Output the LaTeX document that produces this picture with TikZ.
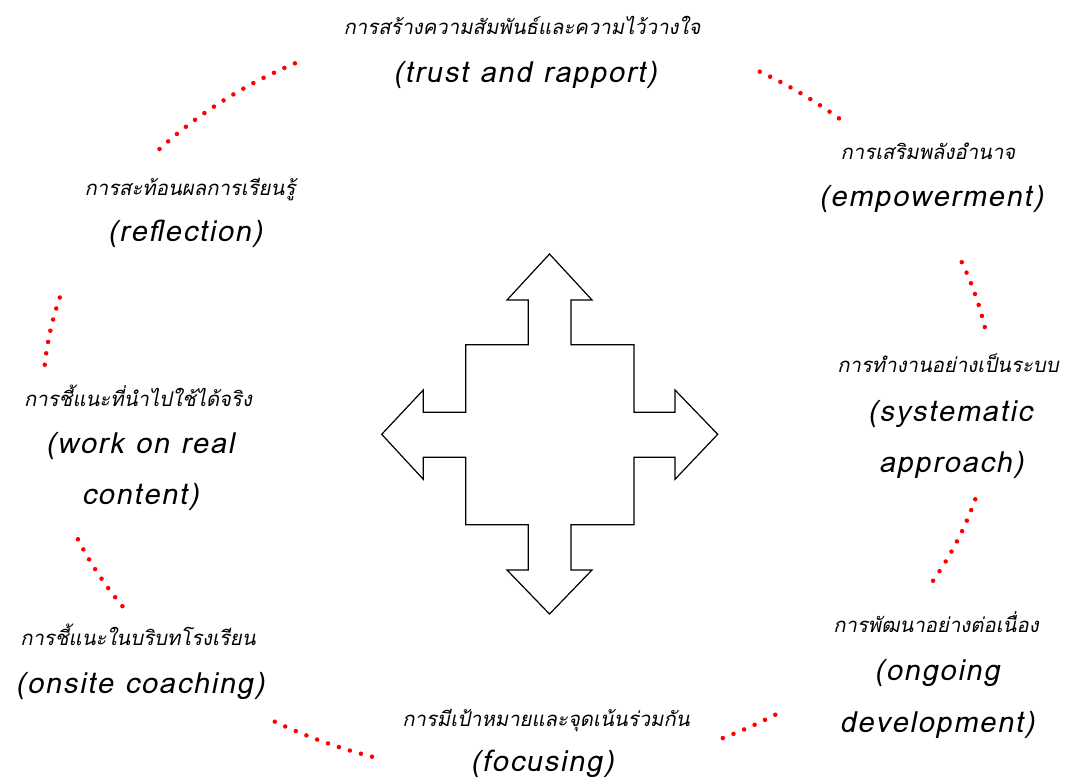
\documentclass[tikz,border=0pt]{standalone}
\usepackage{fontspec}
\newfontfamily\thaifont[Script=Thai,FakeSlant=0.2]{Loma}
\newfontfamily\engfont[FakeSlant=0.2,LetterSpace=6]{Loma}
\begin{document}
\begin{tikzpicture}[x=1pt,y=-1pt,
  thai/.style={anchor=base,inner sep=0pt,font=\thaifont\fontsize{20.3}{24}\selectfont},
  eng/.style={anchor=base,inner sep=0pt,font=\engfont\fontsize{29}{32}\selectfont},
  dotarc/.style={draw=red,line width=4.5pt,line cap=round,dash pattern=on 0pt off 11.5pt},
  bigarrow/.style={draw=black,line width=1.2pt,fill=white,line join=miter}]
\useasboundingbox (0,0) rectangle (1067,779);
% dotted arcs
\foreach \a/\b in {221/242, 300.6/313.2, 339.1/350.1, 15.7/30.3, 57.2/65.4, 107.9/122.2, 146.4/158.6, 184.9/196.6}{
  \draw[dotarc] plot[domain=\a:\b,samples=40,smooth] ({518+475*cos(\x)},{397+378*sin(\x)});
}
% central four-way arrow
\draw[bigarrow] (549.5,254) -- (592,300) -- (571,300) -- (571,344.7) -- (634,344.7) -- (634,412.3) -- (675,412.3) -- (675,390) -- (717.7,434.3) -- (675,479.3) -- (675,457.3) -- (634,457.3) -- (634,524.7) -- (571,524.7) -- (571,570) -- (592,570) -- (549.5,614) -- (507,570) -- (528.3,570) -- (528.3,524.7) -- (465.7,524.7) -- (465.7,457.3) -- (423.3,457.3) -- (423.3,479.3) -- (381.7,434.3) -- (423.3,390) -- (423.3,412.3) -- (465.7,412.3) -- (465.7,344.7) -- (528.3,344.7) -- (528.3,300) -- (507,300) -- cycle;
% labels
\node[thai] (t1) at (522,34) {การสร้างความสัมพันธ์และความไว้วางใจ};
\node[eng] (e1) at (525,82) {(trust and rapport)};
\node[thai] (t2) at (928,159) {การเสริมพลังอำนาจ};
\node[eng] (e2) at (931,206) {(empowerment)};
\node[thai] (t3) at (948,372) {การทำงานอย่างเป็นระบบ};
\node[eng] (e3a) at (950,421) {(systematic};
\node[eng] (e3b) at (951,472) {approach)};
\node[thai] (t4) at (936,632) {การพัฒนาอย่างต่อเนื่อง};
\node[eng] (e4a) at (937,680) {(ongoing};
\node[eng] (e4b) at (937,732) {development)};
\node[thai] (t5) at (546,726) {การมีเป้าหมายและจุดเน้นร่วมกัน};
\node[eng] (e5) at (542,771) {(focusing)};
\node[thai] (t6) at (138,645) {การชี้แนะในบริบทโรงเรียน};
\node[eng] (e6) at (140,693) {(onsite coaching)};
\node[thai] (t7) at (138,406) {การชี้แนะที่นำไปใช้ได้จริง};
\node[eng] (e7a) at (140,453) {(work on real};
\node[eng] (e7b) at (140,504) {content)};
\node[thai] (t8) at (190,195) {การสะท้อนผลการเรียนรู้};
\node[eng] (e8) at (185,241) {(reflection)};
\end{tikzpicture}
\end{document}
